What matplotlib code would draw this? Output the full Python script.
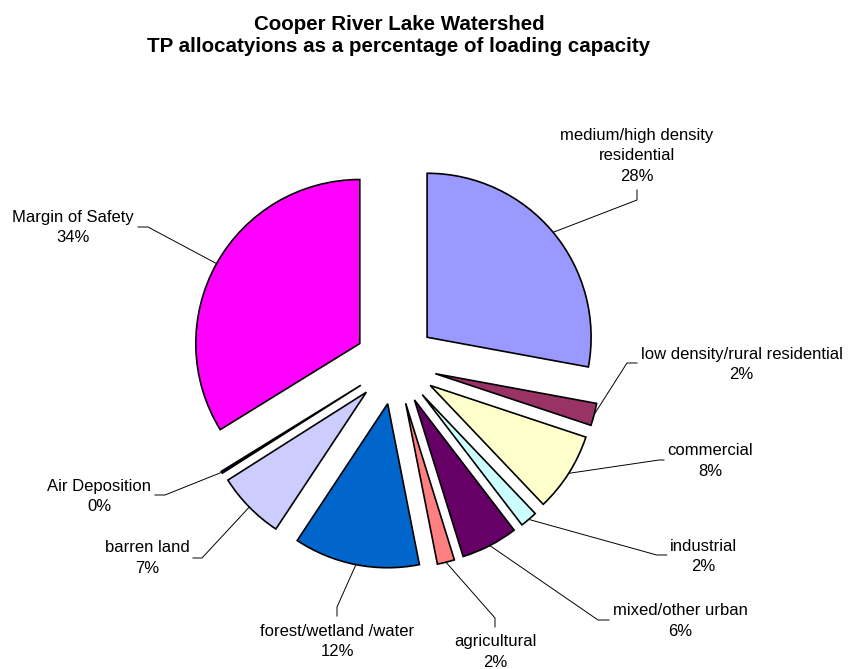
import numpy as np
import matplotlib
matplotlib.use("Agg")
import matplotlib.pyplot as plt

plt.rcParams['font.family'] = ['Liberation Sans', 'DejaVu Sans']

# ---- data ----
categories = ["medium/high density\nresidential", "low density/rural residential",
              "commercial", "industrial", "mixed/other urban", "agricultural",
              "forest/wetland /water", "barren land", "Air Deposition", "Margin of Safety"]
values = [27.9, 2.2, 7.8, 1.7, 5.6, 1.7, 12.4, 6.7, 0.2, 33.8]
colors = ["#9999FF", "#993366", "#FFFFCC", "#CCFFFF", "#660066", "#FF8080",
          "#0066CC", "#CCCCFF", "#000080", "#FF00FF"]
title = "Cooper River Lake Watershed\nTP allocatyions as a percentage of loading capacity"

# ---- layout (pixel coordinates, y measured from top) ----
W, H = 848, 669
pie_center_px = (395.6, 363.5)
pie_radius = 164
explode_dist = 41
# label text centre, leader elbow, leader end
text_pos = [(637, 156), (741.5, 364.5), (710, 461), (703, 556.5), (680, 621),
            (495, 652), (337, 641.5), (147, 558), (99, 496.5), (73, 227.5)]
elbow_pos = [(637, 200), (627, 363), (659, 460), (656.7, 555), (598, 620),
             (495, 618), (337, 607), (202, 558), (165, 495), (148, 227)]
end_pos = [(637, 190), (637, 363), (664, 460), (666.7, 555), (609, 620),
           (495, 627), (337, 616), (193, 558), (155, 495), (138, 227)]

def fy(y):
    return H - y

fig = plt.figure(figsize=(W / 100, H / 100), dpi=100)
ax = fig.add_axes([0, 0, 1, 1])
ax.set_xlim(0, W)
ax.set_ylim(0, H)
ax.set_aspect('equal')
ax.axis('off')

center = (pie_center_px[0], fy(pie_center_px[1]))
wedges, _ = ax.pie(values, colors=colors, startangle=90, counterclock=False,
                   radius=pie_radius, center=center,
                   explode=[explode_dist] * len(values),
                   wedgeprops=dict(edgecolor='black', linewidth=1.2),
                   frame=True)
ax.set_xlim(0, W)
ax.set_ylim(0, H)
ax.axis('off')

total = sum(values)
for w, cat, v, tp, ep, en in zip(wedges, categories, values, text_pos, elbow_pos, end_pos):
    mid = np.deg2rad((w.theta1 + w.theta2) / 2)
    cx, cy = w.center
    sx = cx + w.r * np.cos(mid)
    sy = cy + w.r * np.sin(mid)
    ax.plot([sx, ep[0], en[0]], [sy, fy(ep[1]), fy(en[1])], color='black', lw=0.7)
    pct = round(v / total * 100)
    ax.text(tp[0], fy(tp[1]), f"{cat}\n{pct}%", ha='center', va='center',
            fontsize=12, linespacing=1.43, color='black')

ax.text(399, fy(35), title, ha='center', va='center', fontsize=14.8,
        fontweight='bold', linespacing=1.2)

fig.savefig("out.png", dpi=100)
